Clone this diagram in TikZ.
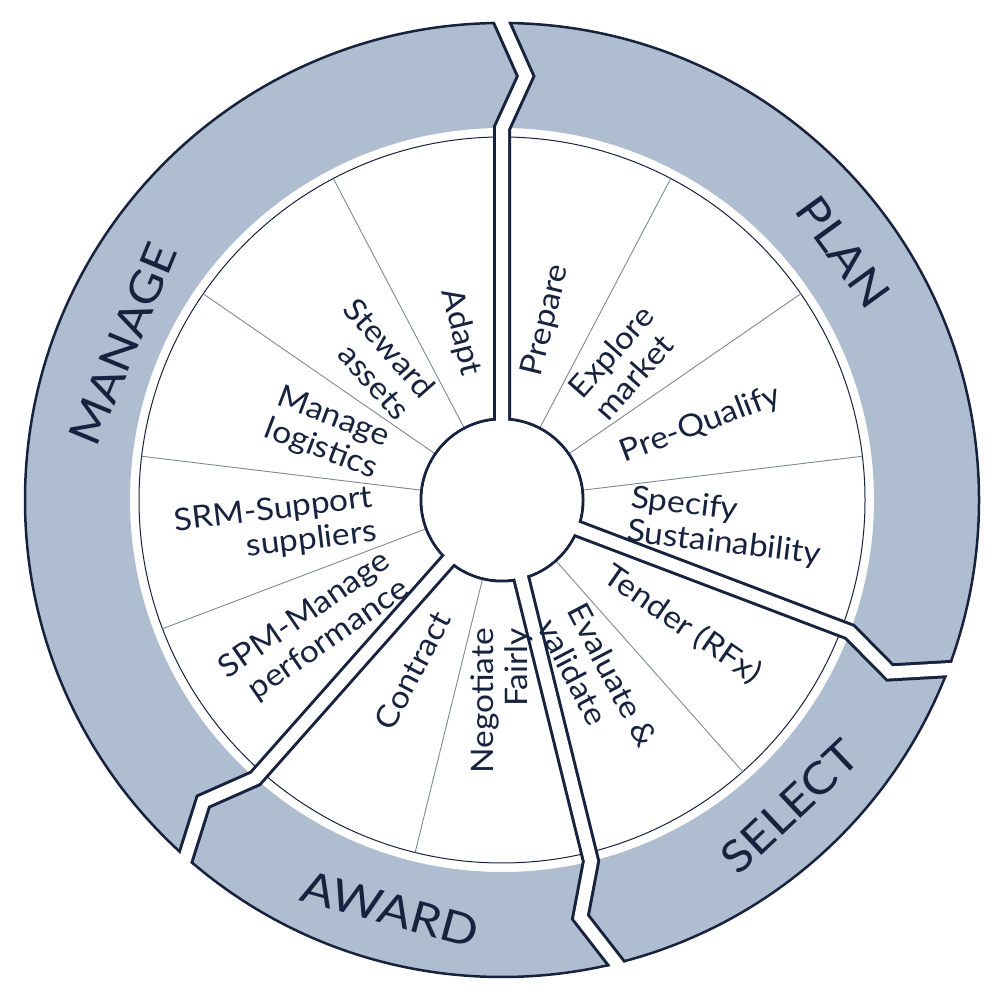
\documentclass[tikz,border=0pt]{standalone}
\usepackage{fontspec}
\usetikzlibrary{calc}
\newfontfamily\latofont[FakeStretch=1.08]{Lato}
\newfontfamily\latobig[FakeStretch=1.12]{Lato}
\newcommand{\labfont}{\latofont\fontsize{31}{34}\selectfont}
\newcommand{\phasefont}{\latobig\fontsize{44}{48}\selectfont}
\definecolor{navy}{HTML}{17223F}
\definecolor{bandblue}{HTML}{AFBDD0}
\definecolor{spokegray}{HTML}{808694}
\begin{document}
\begin{tikzpicture}[x=1pt,y=1pt,
  lab/.style={text=navy, font=\labfont, inner sep=0pt},
  labR/.style={lab, anchor=west, align=left},
  labL/.style={lab, anchor=east, align=right},
  phase/.style={text=navy, font=\phasefont, inner sep=0pt, anchor=center},
  spokeline/.style={spokegray, line width=0.9},
  sepdark/.style={navy, line width=18, line join=miter, miter limit=20},
  seplight/.style={white, line width=12, line join=miter, miter limit=20}
]
\useasboundingbox (0,0) rectangle (1000,1000);
\begin{scope}[shift={(502,500)}]
  % outer band
  \fill[bandblue, even odd rule] (0,0) circle[radius=477] (0,0) circle[radius=372];
  \draw[navy, line width=2.5] (0,0) circle[radius=477];
  % thin inner ring
  \draw[navy, line width=1] (0,0) circle[radius=363];
  % thin spokes
  \foreach \k in {1,2,3,5,7,9,10,11,12}
    \draw[spokeline] ({90-\k*360/13}:81) -- ({90-\k*360/13}:363);
  % hub outline
  \draw[navy, line width=3] (0,0) circle[radius=81];
  % separators (dark casing)
  \begin{scope}
    \clip (0,0) circle[radius=478.25];
    \foreach \k in {0,4,6,8}
      \draw[sepdark] (0,0) -- ({90-\k*360/13}:372) -- ({90-\k*360/13-3.2}:424.5)
        -- ($({90-\k*360/13-3.2}:424.5)!1.8!({90-\k*360/13}:477)$);
  \end{scope}
  % hub interior
  \fill[white] (0,0) circle[radius=79.5];
  % separators (white core)
  \foreach \k in {0,4,6,8}
    \draw[seplight] (0,0) -- ({90-\k*360/13}:372) -- ({90-\k*360/13-3.2}:424.5)
      -- ($({90-\k*360/13-3.2}:424.5)!1.8!({90-\k*360/13}:477)$);

  % step labels, right side (reading outward)
  \node[labR, rotate=76.15] (prepare) at (76.15:128) {Prepare};
  \node[labR, rotate=48.46] (explore) at (48.46:128) {Explore\\market};
  \node[labR, rotate=20.77] (prequal) at (20.77:128) {Pre-Qualify};
  \node[labR, rotate=-6.92] (specify) at (-6.92:128) {Specify\\Sustainability};
  \node[labR, rotate=-34.62] (tender) at (-34.62:128) {Tender (RFx)};
  \node[labR, rotate=-62.31] (evaluate) at (-62.31:128) {Evaluate \&\\validate};
  % step labels, left side (reading inward)
  \node[labL, rotate=90] (negotiate) at (-90:128) {Negotiate\\Fairly};
  \node[labL, rotate=62.31] (contract) at (-117.69:128) {Contract};
  \node[labL, rotate=34.62] (spm) at (214.62:128) {SPM-Manage\\performance};
  \node[labL, rotate=6.92] (srm) at (186.92:128) {SRM-Support\\suppliers};
  \node[labL, rotate=-20.77] (logistics) at (159.23:128) {Manage\\logistics};
  \node[labL, rotate=-48.46] (steward) at (131.54:128) {Steward\\assets};
  \node[labL, rotate=-76.15] (adapt) at (103.85:128) {Adapt};

  % phase labels
  \node[phase, rotate=67.6] (manage) at (157.6:410) {MANAGE};
  \node[phase, rotate=-54] (plan) at (36:422) {PLAN};
  \node[phase, rotate=43.2] (select) at (-46.8:421) {SELECT};
  \node[phase, rotate=-15.3] (award) at (-105.3:424) {AWARD};
\end{scope}
\end{tikzpicture}
\end{document}
